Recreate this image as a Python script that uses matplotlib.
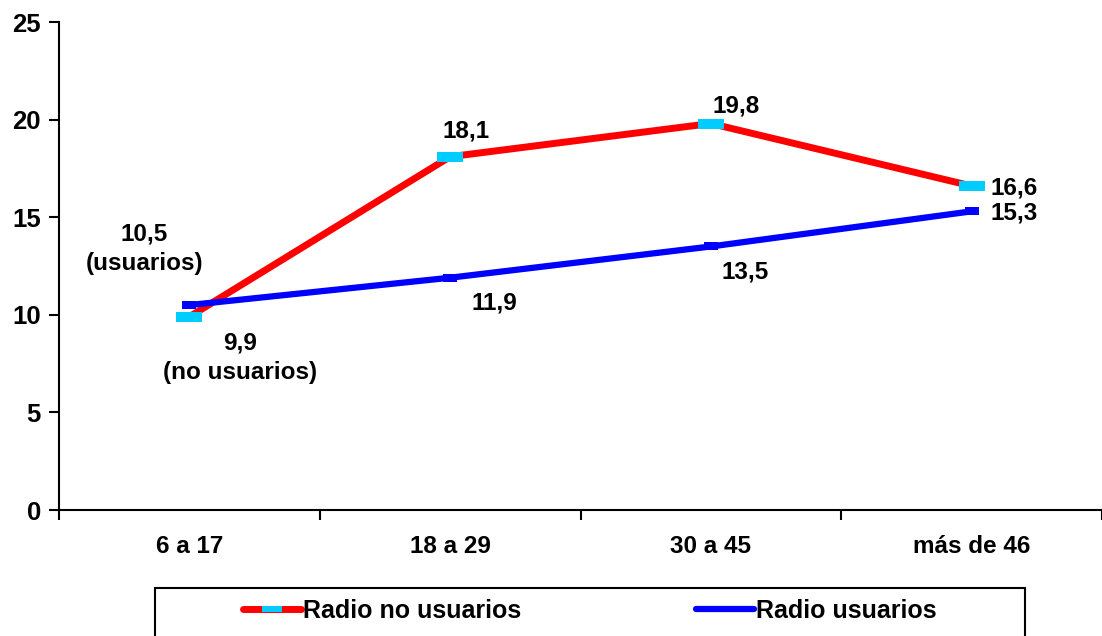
import numpy as np
import matplotlib
matplotlib.use('Agg')
import matplotlib.pyplot as plt
from matplotlib.path import Path
from matplotlib.patches import Rectangle
from matplotlib import font_manager

#=== Data ===#
categories = ['6 a 17', '18 a 29', '30 a 45', 'más de 46']
no_usuarios = [9.9, 18.1, 19.8, 16.6]
usuarios = [10.5, 11.9, 13.5, 15.3]
label_no_usuarios = ['9,9\n(no usuarios)', '18,1', '19,8', '16,6']
label_usuarios = ['10,5\n(usuarios)', '11,9', '13,5', '15,3']
legend_labels = ['Radio no usuarios', 'Radio usuarios']

#=== Fonts ===#
plt.rcParams['font.family'] = ['Liberation Sans', 'DejaVu Sans']
plt.rcParams['font.weight'] = 'bold'
try:
    font_manager.findfont('Liberation Sans Narrow', fallback_to_default=False)
    legend_font = {'family': ['Liberation Sans Narrow', 'Liberation Sans'], 'weight': 'bold', 'size': 21}
    col_space = 6.0
except Exception:
    legend_font = {'family': ['Liberation Sans', 'DejaVu Sans'], 'weight': 'bold', 'size': 18}
    col_space = 7.0

#=== Rectangle markers ===#
def rect_marker(ratio):
    return Path([(-1, -ratio), (1, -ratio), (1, ratio), (-1, ratio), (-1, -ratio)],
                [Path.MOVETO, Path.LINETO, Path.LINETO, Path.LINETO, Path.CLOSEPOLY])

W, H = 1102, 636
fig = plt.figure(figsize=(W / 100, H / 100), dpi=100)
ax = fig.add_axes([59 / W, 1 - 510 / H, 1 - 59 / W, (510 - 22) / H])

x = np.arange(len(categories)) + 0.5
ax.plot(x, no_usuarios, color='#FF0000', lw=5, solid_capstyle='round', zorder=3,
        marker=rect_marker(0.35), markersize=19, markerfacecolor='#00CCFF',
        markeredgecolor='#00CCFF', markeredgewidth=0, label=legend_labels[0])
ax.plot(x, usuarios, color='#0000FF', lw=4.5, solid_capstyle='round', zorder=4,
        marker=rect_marker(0.55), markersize=10, markerfacecolor='#0000FF',
        markeredgecolor='#0000FF', markeredgewidth=0, label=legend_labels[1])

#=== Value labels (offsets in pixels) ===#
off_no = [(51, -41), (16, 26), (25, 18), (43, -2)]
off_us = [(-45, 56), (44, -25), (34, -26), (43, -2)]
for xi, yi, txt, off in zip(x, no_usuarios, label_no_usuarios, off_no):
    ax.annotate(txt, (xi, yi), xytext=off, textcoords='offset pixels',
                ha='center', va='center', fontsize=17.5, fontweight='bold', linespacing=1.35)
for xi, yi, txt, off in zip(x, usuarios, label_usuarios, off_us):
    ax.annotate(txt, (xi, yi), xytext=off, textcoords='offset pixels',
                ha='center', va='center', fontsize=17.5, fontweight='bold', linespacing=1.35)

#=== Axes ===#
ax.set_xlim(0, 4)
ax.set_ylim(0, 25)
ax.set_yticks(np.arange(0, 26, 5))
ax.set_xticks(np.arange(0, 5))
ax.set_xticklabels([])
ax.set_xticks(x, minor=True)
ax.set_xticklabels(categories, minor=True)
ax.tick_params(axis='y', direction='out', length=7, width=1.5, pad=6, labelsize=18.5)
ax.tick_params(axis='x', which='major', direction='out', length=7, width=1.5)
ax.tick_params(axis='x', which='minor', length=0, pad=18, labelsize=17.5)
for lab in ax.get_yticklabels() + ax.get_xticklabels(minor=True):
    lab.set_fontweight('bold')
for s in ['top', 'right']:
    ax.spines[s].set_visible(False)
for s in ['left', 'bottom']:
    ax.spines[s].set_linewidth(1.5)

#=== Legend ===#
fig.patches.append(Rectangle((155 / W, -0.1), (1025 - 155) / W, 0.1 + 1 - 588 / H,
                             transform=fig.transFigure, fill=False, edgecolor='black',
                             lw=1.5, clip_on=False))
leg = fig.legend(loc='center left', bbox_to_anchor=(243 / W, 1 - 611 / H), ncol=2,
                 frameon=False, prop=legend_font, handlelength=2.3, handletextpad=0.1,
                 columnspacing=col_space, borderpad=0, borderaxespad=0, markerscale=0.75)

fig.savefig('out.png', dpi=100)
